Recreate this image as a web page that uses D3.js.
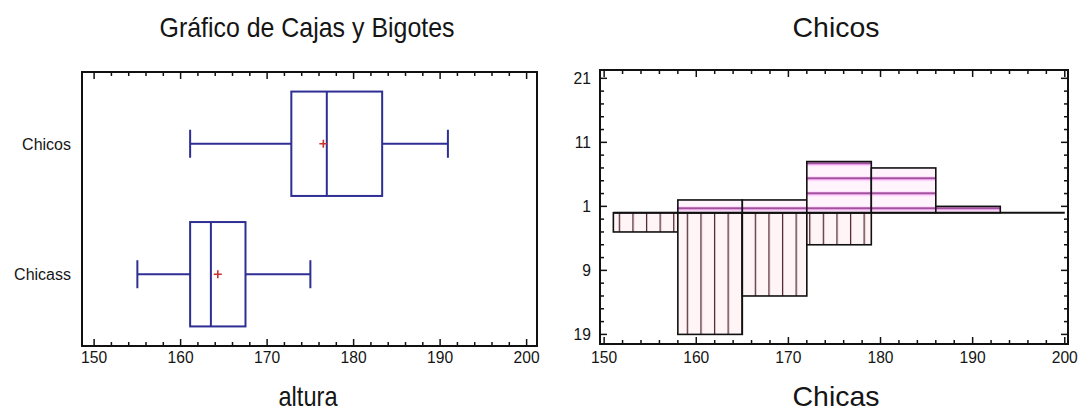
<!DOCTYPE html>
<html>
<head>
<meta charset="utf-8">
<script src="https://cdn.jsdelivr.net/npm/d3@7"></script>
<style>
  body { margin: 0; background: #fff; }
  text { font-family: "Liberation Sans", Arial, sans-serif; fill: #151515; }
</style>
</head>
<body>
<svg id="chart" width="1081" height="417"></svg>
<script>
// datos del grafico de cajas
var grupos = ["Chicos", "Chicass"];
var minimos = [161.1, 155.0];
var cuartil1 = [172.8, 161.1];
var medianas = [176.9, 163.5];
var cuartil3 = [183.3, 167.5];
var maximos = [190.9, 175.0];
var medias = [176.5, 164.3];

// datos del histograma doble
var limitesClase = [151, 158, 165, 172, 179, 186, 193];
var frecChicos = [0, 2, 2, 8, 7, 1];
var frecChicas = [3, 19, 13, 5, 0, 0];
var ticksX = [150, 160, 170, 180, 190, 200];
var ticksY = [21, 11, 1, -9, -19];

var svg = d3.select("#chart");
var azul = "#2e2e94";

// texto con compresion horizontal (la fuente original es estrecha)
function texto(g, x, y, str, size, sx, anchor) {
    return g.append("text")
        .attr("transform", "translate(" + x + "," + y + ") scale(" + sx + ",1)")
        .attr("text-anchor", anchor || "middle")
        .style("font-size", size + "px")
        .text(str);
}
function titulo(x, y, str, ancho) {
    return svg.append("text").attr("x", x).attr("y", y).attr("text-anchor", "middle")
        .style("font-size", "28px")
        .attr("textLength", ancho).attr("lengthAdjust", "spacingAndGlyphs")
        .text(str);
}

// ---------- grafico de cajas ----------
var xL = d3.scaleLinear().domain([148.6, 201.2]).range([82, 537]);
var yL = d3.scalePoint().domain(grupos).range([72, 346]).padding(0.55);
var altoCaja = yL.step() * 0.8;

titulo(307, 37, "Gráfico de Cajas y Bigotes", 295);

var gL = svg.append("g");
// ticks menores y mayores arriba y abajo
d3.range(150, 201, 2).forEach(function (v) {
    var largo = v % 10 === 0 ? 7 : 4;
    gL.append("line").attr("x1", xL(v)).attr("x2", xL(v)).attr("y1", 346).attr("y2", 346 - largo)
        .attr("stroke", "#111").attr("stroke-width", 1.5);
    gL.append("line").attr("x1", xL(v)).attr("x2", xL(v)).attr("y1", 72).attr("y2", 72 + largo)
        .attr("stroke", "#111").attr("stroke-width", 1.5);
});
ticksX.forEach(function (v) {
    texto(gL, xL(v), 363, v, 17, 0.92);
});
grupos.forEach(function (g) {
    texto(gL, 71, yL(g) + 6, g, 16, 1, "end");
});

grupos.forEach(function (g, i) {
    var cy = yL(g);
    var caja = gL.append("g").attr("stroke", azul).attr("stroke-width", 2).attr("fill", "none");
    caja.append("line").attr("x1", xL(minimos[i])).attr("x2", xL(cuartil1[i])).attr("y1", cy).attr("y2", cy);
    caja.append("line").attr("x1", xL(cuartil3[i])).attr("x2", xL(maximos[i])).attr("y1", cy).attr("y2", cy);
    caja.append("line").attr("x1", xL(minimos[i])).attr("x2", xL(minimos[i])).attr("y1", cy - 14).attr("y2", cy + 14);
    caja.append("line").attr("x1", xL(maximos[i])).attr("x2", xL(maximos[i])).attr("y1", cy - 14).attr("y2", cy + 14);
    caja.append("rect").attr("x", xL(cuartil1[i])).attr("y", cy - altoCaja / 2)
        .attr("width", xL(cuartil3[i]) - xL(cuartil1[i])).attr("height", altoCaja);
    caja.append("line").attr("x1", xL(medianas[i])).attr("x2", xL(medianas[i]))
        .attr("y1", cy - altoCaja / 2).attr("y2", cy + altoCaja / 2);
    // media
    var mx = xL(medias[i]);
    gL.append("path").attr("d", "M" + (mx - 4) + "," + cy + "H" + (mx + 4) + "M" + mx + "," + (cy - 4) + "V" + (cy + 4))
        .attr("stroke", "#c8322e").attr("stroke-width", 1.6);
});
gL.append("rect").attr("x", 82).attr("y", 72).attr("width", 455).attr("height", 274)
    .attr("fill", "none").attr("stroke", "#111").attr("stroke-width", 2);

titulo(308, 406, "altura", 59);

// ---------- histograma doble ----------
var xR = d3.scaleLinear().domain([149.55, 200.35]).range([600, 1068]);
var yR = d3.scaleLinear().domain([-20.5, 22.3]).range([344, 70]);
var y0 = yR(0);

var defs = svg.append("defs");
var pv = defs.append("pattern").attr("id", "verticales").attr("patternUnits", "userSpaceOnUse")
    .attr("x", xR(limitesClase[0]) + 5.4).attr("y", 0).attr("width", 13.6).attr("height", 20);
pv.append("rect").attr("width", 13.6).attr("height", 20).attr("fill", "#fff4f6");
pv.append("line").attr("x1", 0.6).attr("x2", 0.6).attr("y1", 0).attr("y2", 20)
    .attr("stroke", "#4e2330").attr("stroke-width", 1.3);

var ph = defs.append("pattern").attr("id", "horizontales").attr("patternUnits", "userSpaceOnUse")
    .attr("x", 0).attr("y", y0 - 4.5 - 2).attr("width", 20).attr("height", 15);
ph.append("rect").attr("width", 20).attr("height", 15).attr("fill", "#fff3fc");
ph.append("line").attr("x1", 0).attr("x2", 20).attr("y1", 2.5).attr("y2", 2.5)
    .attr("stroke", "#ff7cff").attr("stroke-width", 4).attr("opacity", 0.45);
ph.append("line").attr("x1", 0).attr("x2", 20).attr("y1", 2).attr("y2", 2)
    .attr("stroke", "#6c1868").attr("stroke-width", 1.3);

titulo(836, 37, "Chicos", 87);

var gR = svg.append("g");
var clases = d3.range(frecChicos.length);

gR.selectAll(".chicas").data(clases.filter(function (i) { return frecChicas[i] > 0; }))
    .enter().append("rect")
    .attr("x", function (i) { return xR(limitesClase[i]); })
    .attr("y", y0)
    .attr("width", function (i) { return xR(limitesClase[i + 1]) - xR(limitesClase[i]); })
    .attr("height", function (i) { return yR(-frecChicas[i]) - y0; })
    .attr("fill", "url(#verticales)").attr("stroke", "#111").attr("stroke-width", 1.6);

gR.selectAll(".chicos").data(clases.filter(function (i) { return frecChicos[i] > 0; }))
    .enter().append("rect")
    .attr("x", function (i) { return xR(limitesClase[i]); })
    .attr("y", function (i) { return yR(frecChicos[i]); })
    .attr("width", function (i) { return xR(limitesClase[i + 1]) - xR(limitesClase[i]); })
    .attr("height", function (i) { return y0 - yR(frecChicos[i]); })
    .attr("fill", "url(#horizontales)").attr("stroke", "#111").attr("stroke-width", 1.6);

gR.append("line").attr("x1", xR(limitesClase[0])).attr("x2", xR(200)).attr("y1", y0).attr("y2", y0)
    .attr("stroke", "#111").attr("stroke-width", 2);

// ticks eje x
d3.range(150, 201, 2).forEach(function (v) {
    var largo = v % 10 === 0 ? 7 : 4;
    gR.append("line").attr("x1", xR(v)).attr("x2", xR(v)).attr("y1", 344).attr("y2", 344 - largo)
        .attr("stroke", "#111").attr("stroke-width", 1.5);
    gR.append("line").attr("x1", xR(v)).attr("x2", xR(v)).attr("y1", 70).attr("y2", 70 + largo)
        .attr("stroke", "#111").attr("stroke-width", 1.5);
});
ticksX.forEach(function (v) {
    texto(gR, xR(v), 363, v, 17, 0.92);
});
// ticks eje y
d3.range(-19, 22, 2).forEach(function (v) {
    var largo = ticksY.indexOf(v) >= 0 ? 7 : 4;
    gR.append("line").attr("x1", 600).attr("x2", 600 + largo).attr("y1", yR(v)).attr("y2", yR(v))
        .attr("stroke", "#111").attr("stroke-width", 1.5);
    gR.append("line").attr("x1", 1068).attr("x2", 1068 - largo).attr("y1", yR(v)).attr("y2", yR(v))
        .attr("stroke", "#111").attr("stroke-width", 1.5);
});
ticksY.forEach(function (v) {
    texto(gR, 591, yR(v) + 6, Math.abs(v), 17, 0.92, "end");
});
gR.append("rect").attr("x", 600).attr("y", 70).attr("width", 468).attr("height", 274)
    .attr("fill", "none").attr("stroke", "#111").attr("stroke-width", 2);

titulo(836, 406, "Chicas", 87);
</script>
</body>
</html>
